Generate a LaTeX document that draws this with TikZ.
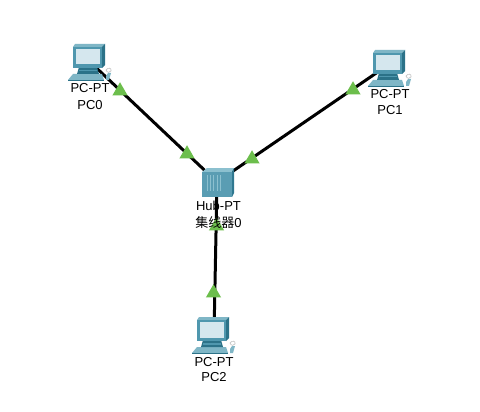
\documentclass[tikz,border=0pt]{standalone}
\usepackage{fontspec}
\setmainfont{Liberation Sans}
\newfontfamily\cjkfont{Noto Sans CJK SC}
\usetikzlibrary{shapes.geometric}
\definecolor{pcbody}{HTML}{4F97AE}
\definecolor{pcdark}{HTML}{2B7288}
\definecolor{pclight}{HTML}{7FB6C6}
\definecolor{pcscreen}{HTML}{D5E7EE}
\definecolor{huba}{HTML}{5A9DB3}
\definecolor{hubb}{HTML}{8CC0CF}
\definecolor{hubc}{HTML}{2F7890}
\definecolor{portgreen}{HTML}{6CBE4C}
\tikzset{
  link/.style={line width=3pt,black},
  port/.style={regular polygon,regular polygon sides=3,fill=portgreen,inner sep=0pt,minimum size=17.5pt},
  anchorpt/.style={inner sep=0pt,minimum size=0pt},
  devlabel/.style={inner sep=0pt,font=\fontsize{13}{15}\selectfont,text=black},
  pcicon/.pic={
    % base / keyboard
    \fill[pclight] (-20,18) -- (-15,12) -- (14,12) -- (16,18) -- cycle;
    \fill[pcdark] (-20,18) -- (16,18) -- (16,19) -- (-20,19) -- cycle;
    \fill[pcdark] (-9,5) -- (9,5) -- (11,12) -- (-11,12) -- cycle;
    \fill[pcbody] (-9,8) rectangle (9,9.5);
    % monitor
    \fill[pclight] (-15,-15) -- (-13,-18) -- (17,-18) -- (14,-15) -- cycle;
    \fill[pcdark] (14,-15) -- (17,-18) -- (17,3) -- (14,6) -- cycle;
    \fill[pcbody] (-15,-15) rectangle (14,6);
    \fill[pcscreen] (-12,-13) -- (12,-13) -- (12,2.5) -- (-12,2.5) -- cycle;
    % mouse
    \draw[gray!50,line width=.6pt,fill=white] (18,8) .. controls (20,5) and (24,6) .. (23,9) .. controls (22,11) and (19,11) .. (18,8) -- cycle;
    \fill[pclight] (18,14) -- (20,11) -- (23,11) -- (21,18) -- (18,18) -- cycle;
  }
}
\begin{document}
\begin{tikzpicture}[x=1pt,y=-1pt]
\useasboundingbox[fill=white] (0,0) rectangle (480,412);
\node[anchorpt] (pc0) at (88,60) {};
\node[anchorpt] (pc1) at (388,65) {};
\node[anchorpt] (pc2) at (214,335) {};
\node[anchorpt] (hub) at (217,182) {};
\draw[link] (pc0) -- (hub);
\draw[link] (pc1) -- (hub);
\draw[link] (pc2) -- (hub);
\node[port] (p0a) at (120,91) {};
\node[port] (p0b) at (187,154) {};
\node[port] (p1a) at (353,90) {};
\node[port] (p1b) at (252,159) {};
\node[port] (p2a) at (213.5,293) {};
\node[port] (p2b) at (216.5,226) {};
\pic at (88,62) {pcicon};
\pic at (388,68) {pcicon};
\pic at (212,335) {pcicon};
% hub
\fill[hubb] (202,172) -- (207,168) -- (234,168) -- (232,172) -- cycle;
\fill[hubc] (232,172) -- (234,168) -- (234,193) -- (232,197) -- cycle;
\fill[huba] (202,172) rectangle (232,197);
\foreach \x in {207,210,213,216.5,219.5}{\fill[hubb] (\x,175) rectangle (\x+1.3,191);}
% labels
\node[devlabel] (l0a) at (90,88) {PC-PT};
\node[devlabel] (l0b) at (90,105.5) {PC0};
\node[devlabel] (l1a) at (390,94.5) {PC-PT};
\node[devlabel] (l1b) at (390,110) {PC1};
\node[devlabel] (l2a) at (214,362) {PC-PT};
\node[devlabel] (l2b) at (214,377) {PC2};
\node[devlabel] (lha) at (218.5,206) {Hub-PT};
\node[devlabel] (lhb) at (218.5,223) {{\cjkfont 集线器}0};
\end{tikzpicture}
\end{document}
